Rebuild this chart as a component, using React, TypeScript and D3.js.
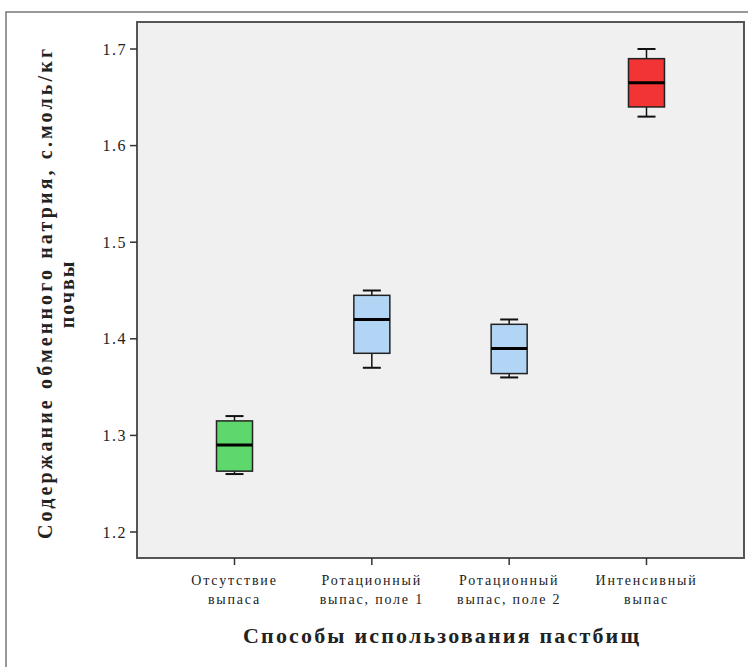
import React from "react";
import * as d3 from "d3";

const categories = [
  ["Отсутствие", "выпаса"],
  ["Ротационный", "выпас, поле 1"],
  ["Ротационный", "выпас, поле 2"],
  ["Интенсивный", "выпас"],
];
const mins = [1.26, 1.37, 1.36, 1.63];
const q1s = [1.263, 1.385, 1.364, 1.64];
const medians = [1.29, 1.42, 1.39, 1.665];
const q3s = [1.315, 1.445, 1.415, 1.69];
const maxs = [1.32, 1.45, 1.42, 1.7];
const colors = ["#5ed86c", "#b3d5f5", "#b3d5f5", "#f23434"];
const yTicks = [1.2, 1.3, 1.4, 1.5, 1.6, 1.7];

const W = 748;
const H = 667;
const left = 137;
const right = 744;
const top = 22;
const bottom = 558;
const serif = "'Liberation Serif', 'DejaVu Serif', 'Times New Roman', serif";

export default function App() {
  const y = d3.scaleLinear().domain([1.2, 1.7]).range([532, 49]);
  const x = d3
    .scalePoint<number>()
    .domain(d3.range(categories.length))
    .range([left, right])
    .padding(0.71);
  const boxW = 36;
  const capW = 18;
  return (
    <svg
      width={W}
      height={H}
      style={{ position: "absolute", left: 0, top: 0, background: "#fff" }}
    >
      <rect x={6} y={12} width={760} height={700} fill="#fff" stroke="#777" strokeWidth={1.5} />
      <rect x={left} y={top} width={right - left} height={bottom - top} fill="#f0f0f0" stroke="#555" strokeWidth={2} />
      {yTicks.map((t) => (
        <g key={t}>
          <line x1={left - 7} x2={left} y1={y(t)} y2={y(t)} stroke="#333" strokeWidth={1.5} />
          <text x={left - 10} y={y(t)} dy="0.35em" textAnchor="end" fontFamily={serif} fontSize={16} letterSpacing={1.5} fill="#222">
            {t.toFixed(1)}
          </text>
        </g>
      ))}
      {categories.map((c, i) => {
        const cx = x(i)!;
        return (
          <g key={i}>
            <line x1={cx} x2={cx} y1={bottom} y2={bottom + 7} stroke="#333" strokeWidth={1.5} />
            <text x={cx} y={bottom + 27} textAnchor="middle" fontFamily={serif} fontSize={14} letterSpacing={1.8} fill="#222">
              {c[0]}
            </text>
            <text x={cx} y={bottom + 46} textAnchor="middle" fontFamily={serif} fontSize={14} letterSpacing={1.8} fill="#222">
              {c[1]}
            </text>
            <line x1={cx} x2={cx} y1={y(maxs[i])} y2={y(q3s[i])} stroke="#111" strokeWidth={1.5} />
            <line x1={cx} x2={cx} y1={y(q1s[i])} y2={y(mins[i])} stroke="#111" strokeWidth={1.5} />
            <line x1={cx - capW / 2} x2={cx + capW / 2} y1={y(maxs[i])} y2={y(maxs[i])} stroke="#111" strokeWidth={2} />
            <line x1={cx - capW / 2} x2={cx + capW / 2} y1={y(mins[i])} y2={y(mins[i])} stroke="#111" strokeWidth={2} />
            <rect
              x={cx - boxW / 2}
              y={y(q3s[i])}
              width={boxW}
              height={y(q1s[i]) - y(q3s[i])}
              fill={colors[i]}
              stroke="#222"
              strokeWidth={1.5}
            />
            <line x1={cx - boxW / 2} x2={cx + boxW / 2} y1={y(medians[i])} y2={y(medians[i])} stroke="#000" strokeWidth={3} />
          </g>
        );
      })}
      <text
        transform="translate(52,294) rotate(-90)"
        textAnchor="middle"
        fontFamily={serif}
        fontSize={20}
        fontWeight="bold"
        textLength={490}
        lengthAdjust="spacing"
        fill="#222"
      >
        Содержание обменного натрия, с.моль/кг
      </text>
      <text
        transform="translate(74,294) rotate(-90)"
        textAnchor="middle"
        fontFamily={serif}
        fontSize={20}
        fontWeight="bold"
        letterSpacing={2}
        fill="#222"
      >
        почвы
      </text>
      <text
        x={441}
        y={643}
        textAnchor="middle"
        fontFamily={serif}
        fontSize={22}
        fontWeight="bold"
        textLength={396}
        lengthAdjust="spacing"
        fill="#222"
      >
        Способы использования пастбищ
      </text>
    </svg>
  );
}
